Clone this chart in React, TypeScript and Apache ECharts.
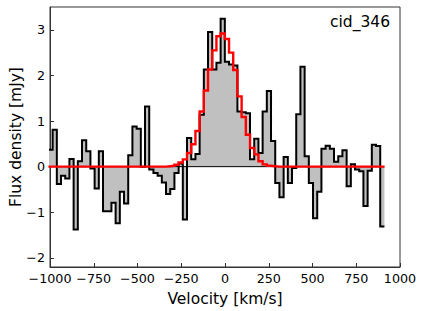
import React, { useEffect, useRef } from "react";
import * as echarts from "echarts";

// Bin edges (km/s) of the spectrum channels
const binEdges = [
  -1009, -985, -961, -937, -913, -889, -865, -841, -817, -793, -769, -745, -721, -697, -673, -649,
  -625, -601, -577, -553, -529, -505, -481, -457, -433, -409, -385, -361, -337, -313, -289, -265,
  -241, -217, -193, -169, -145, -121, -97, -73, -49, -25, -1, 23, 47, 71, 95, 119, 143, 167, 191,
  215, 239, 263, 287, 311, 335, 359, 383, 407, 431, 455, 479, 503, 527, 551, 575, 599, 623, 647,
  671, 695, 719, 743, 767, 791, 815, 839, 863, 887, 911,
];

// Observed flux density [mJy] per channel
const fluxObserved = [
  0.37, 0.81, -0.38, -0.2, -0.26, 0.17, -1.38, 0.12, 0.58, 0.34, -0.04, -0.48, 0.34, -0.98, -0.98,
  -0.79, -1.24, -0.55, -0.81, 0.25, 0.88, 0.83, 0.0, 1.32, -0.06, -0.14, -0.2, -0.35, -0.6, -0.49,
  -0.14, 0.07, -1.16, 0.63, 0.16, 0.28, 1.14, 2.13, 2.95, 2.13, 2.28, 3.24, 2.3, 2.24, 2.22, 1.21,
  1.19, 1.17, 0.16, 0.61, 0.3, 1.21, 1.66, 0.56, -0.36, -0.67, 0.21, -0.36, -0.03, 1.15, 2.19, 0.23,
  -0.36, -1.13, -0.55, 0.39, 0.46, 0.39, 0.11, 0.23, 0.36, -0.43, 0.05, -0.06, -0.1, -0.86, -0.09,
  0.48, 0.45, -1.31,
];

// Gaussian fit per channel
const fluxFit = [
  0, 0, 0, 0, 0, 0, 0, 0, 0, 0, 0, 0, 0, 0, 0, 0, 0, 0, 0, 0, 0, 0, 0, 0, 0, 0, 0, 0, 0.01, 0.02,
  0.04, 0.09, 0.16, 0.3, 0.49, 0.78, 1.21, 1.67, 2.13, 2.55, 2.86, 2.92, 2.8, 2.5, 2.12, 1.54,
  1.09, 0.7, 0.41, 0.27, 0.12, 0.05, 0.02, 0.01, 0, 0, 0, 0, 0, 0, 0, 0, 0, 0, 0, 0, 0, 0, 0, 0,
  0, 0, 0, 0, 0, 0, 0, 0, 0, 0, 0,
];

const sourceName = "cid_346";
const FONT = "DejaVu Sans";

function stepData(values: number[]) {
  const pts: [number, number][] = values.map((v, i) => [binEdges[i], v]);
  pts.push([binEdges[values.length], values[values.length - 1]]);
  return pts;
}

const fmt = (v: number) => String(v).replace("-", "\u2212");

export default function App() {
  const ref = useRef<HTMLDivElement>(null);
  useEffect(() => {
    if (!ref.current) return;
    const chart = echarts.init(ref.current, null, { renderer: "svg" });
    const axisColor = "#333";
    chart.setOption({
      animation: false,
      backgroundColor: "#ffffff",
      grid: {
        left: 50,
        right: 25,
        top: 7,
        bottom: 44,
        containLabel: false,
        outerBoundsMode: "none",
        show: true,
        borderColor: axisColor,
        borderWidth: 1,
        backgroundColor: "transparent",
      },
      xAxis: {
        type: "value",
        min: -1000,
        max: 1000,
        interval: 250,
        name: "Velocity [km/s]",
        nameLocation: "middle",
        nameGap: 24,
        nameTextStyle: { fontFamily: FONT, fontSize: 15.5, color: "#000" },
        axisLine: { onZero: false, lineStyle: { color: axisColor, width: 1 } },
        axisTick: { inside: true, length: 4, lineStyle: { color: axisColor } },
        axisLabel: { fontFamily: FONT, fontSize: 12.7, color: "#000", margin: 5, formatter: fmt },
        splitLine: { show: false },
      },
      yAxis: {
        type: "value",
        min: -2.2,
        max: 3.5,
        splitNumber: 5,
        name: "Flux density [mJy]",
        nameLocation: "middle",
        nameRotate: 90,
        nameGap: 26,
        nameMoveOverlap: false,
        nameTextStyle: { fontFamily: FONT, fontSize: 15.5, color: "#000" },
        axisLine: { onZero: false, lineStyle: { color: axisColor, width: 1 } },
        axisTick: { inside: true, length: 4, lineStyle: { color: axisColor } },
        axisLabel: {
          fontFamily: FONT,
          fontSize: 12.7,
          color: "#000",
          margin: 5,
          showMinLabel: false,
          showMaxLabel: false,
          formatter: (v: number) => (Number.isInteger(v) ? fmt(v) : ""),
        },
        splitLine: { show: false },
      },
      graphic: [
        {
          type: "text",
          right: 35,
          top: 14,
          style: { text: sourceName, font: `15.5px '${FONT}'`, fill: "#000" },
        },
      ],
      series: [
        {
          type: "line",
          step: "end",
          data: stepData(fluxObserved),
          symbol: "none",
          lineStyle: { color: "#000", width: 2, join: "miter" },
          areaStyle: { color: "#c0c0c0", opacity: 1, origin: 0 },
          z: 2,
        },
        {
          type: "line",
          data: [
            [binEdges[0], 0],
            [binEdges[binEdges.length - 1], 0],
          ],
          symbol: "none",
          lineStyle: { color: "#000", width: 1 },
          z: 3,
        },
        {
          type: "line",
          step: "end",
          data: stepData(fluxFit),
          symbol: "none",
          lineStyle: { color: "#ff0000", width: 2.4, join: "miter" },
          z: 4,
        },
      ],
    });
    return () => chart.dispose();
  }, []);
  return (
    <div
      ref={ref}
      style={{ position: "fixed", left: 0, top: 0, width: 425, height: 311 }}
    />
  );
}
